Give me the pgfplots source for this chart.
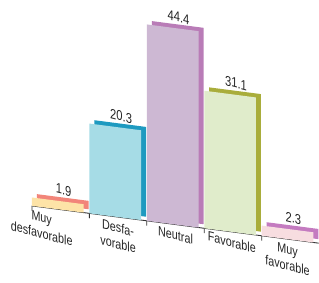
\documentclass[border={0pt 0pt 0pt -16pt}]{standalone}
\usepackage{pgfplots}
\pgfplotsset{compat=1.18}
\usepackage{fontspec}
\setmainfont{Liberation Sans}[FakeStretch=0.8]
\definecolor{f1}{HTML}{FDE3A7}\definecolor{s1}{HTML}{F2857A}
\definecolor{f2}{HTML}{A6DCE6}\definecolor{s2}{HTML}{1E9AC0}
\definecolor{f3}{HTML}{CDB8D3}\definecolor{s3}{HTML}{B97CB7}
\definecolor{f4}{HTML}{E0ECCB}\definecolor{s4}{HTML}{A9AD3B}
\definecolor{f5}{HTML}{F7DDE0}\definecolor{s5}{HTML}{C47BC0}
\begin{document}
\begin{tikzpicture}[cm={1,-0.13,0,1,(0,0)}]
\begin{axis}[
  scale only axis, width=319pt, height=198pt,
  xmin=-1.056, xmax=4.49, ymin=0, ymax=44.7,
  clip=false,
  /pgf/number format/assume math mode=true,
  axis x line=bottom, axis y line=none,
  x axis line style={draw=none},
  xtick={-0.33,1,2,2.98,3.95},
  xticklabels={{Muy\\desfavorable},{Desfa-\\vorable},{Neutral},{Favorable},{Muy\\favorable}},
  xticklabel style={align=center, font=\fontsize{13.5}{16.5}\selectfont, yshift=-2pt, text=black!85, yslant=-0.13},
  major tick length=0pt,
  every node near coord/.append style={font=\fontsize{14}{15}\selectfont, yshift=3pt, xshift=3pt, text=black!85, yslant=-0.13},
]
\pgfplotsset{
  front/.style={ybar, bar width=0.9, bar shift=-0.05, draw=none, fill=#1},
  back/.style={ybar, bar width=0.9, bar shift=-0.05, draw=none, fill=#1, xshift=5pt, yshift=4pt},
}
\addplot[draw=black!80, line width=0.9pt, no marks] coordinates {(-0.5,0) (4.49,0)};
\addplot[ycomb, draw=black!80, line width=0.8pt, no marks] coordinates {(-0.5,-1.1) (0.5,-1.1) (1.5,-1.1) (2.5,-1.1) (3.5,-1.1)};
\addplot[back=s1] coordinates {(0,1.9)};
\addplot[front=f1, nodes near coords] coordinates {(0,1.9)};
\addplot[back=s2] coordinates {(1,20.3)};
\addplot[front=f2, nodes near coords] coordinates {(1,20.3)};
\addplot[back=s3] coordinates {(2,44.4)};
\addplot[front=f3, nodes near coords] coordinates {(2,44.4)};
\addplot[back=s4] coordinates {(3,31.1)};
\addplot[front=f4, nodes near coords] coordinates {(3,31.1)};
\addplot[back=s5] coordinates {(4,2.3)};
\addplot[front=f5, nodes near coords] coordinates {(4,2.3)};
\end{axis}
\end{tikzpicture}
\end{document}
